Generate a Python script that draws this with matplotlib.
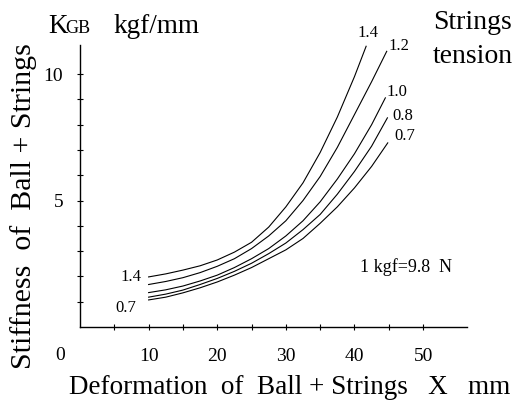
import matplotlib
matplotlib.use("Agg")
import matplotlib.pyplot as plt

plt.rcParams["font.family"] = ["Liberation Serif", "DejaVu Serif"]

# deformation X (mm) and stiffness K (kgf/mm), per string tension
tensions = ["1.4", "1.2", "1.0", "0.8", "0.7"]
x_14 = [10, 12.5, 15, 17.5, 20, 22.5, 25, 27.5, 30, 32.5, 35, 37.5, 40, 41.7]
k_14 = [1.98, 2.1, 2.25, 2.42, 2.65, 2.96, 3.35, 3.95, 4.75, 5.7, 6.9, 8.3, 9.9, 11.1]
x_12 = [10, 12.5, 15, 17.5, 20, 22.5, 25, 27.5, 30, 32.5, 35, 37.5, 40, 42.5, 44.7]
k_12 = [1.68, 1.8, 1.95, 2.15, 2.4, 2.7, 3.1, 3.6, 4.2, 5.0, 5.95, 7.1, 8.4, 9.7, 10.9]
x_10 = [10, 12.5, 15, 17.5, 20, 22.5, 25, 27.5, 30, 32.5, 35, 37.5, 40, 42.5, 44.5]
k_10 = [1.36, 1.47, 1.62, 1.82, 2.05, 2.35, 2.7, 3.1, 3.6, 4.2, 4.95, 5.85, 6.85, 8.0, 9.06]
x_08 = [10, 12.5, 15, 17.5, 20, 22.5, 25, 27.5, 30, 32.5, 35, 37.5, 40, 42.5, 44.8]
k_08 = [1.18, 1.3, 1.46, 1.68, 1.92, 2.2, 2.52, 2.9, 3.32, 3.85, 4.45, 5.25, 6.15, 7.15, 8.27]
x_07 = [10, 12.5, 15, 17.5, 20, 22.5, 25, 27.5, 30, 32.5, 35, 37.5, 40, 42.5, 44.85]
k_07 = [1.07, 1.18, 1.35, 1.55, 1.78, 2.05, 2.35, 2.7, 3.05, 3.5, 4.1, 4.75, 5.5, 6.35, 7.28]

x_ticks = [5, 10, 15, 20, 25, 30, 35, 40, 45, 50]
x_tick_labels = ["", "10", "", "20", "", "30", "", "40", "", "50"]
y_ticks = [1, 2, 3, 4, 5, 6, 7, 8, 9, 10]
y_tick_labels = ["", "", "", "", "5", "", "", "", "", "10"]

W, H = 519, 401
fig = plt.figure(figsize=(W / 100, H / 100), dpi=100)
ax = fig.add_axes([80 / W, (H - 327) / H, (467 - 80) / W, (327 - 45) / H])
ax.set_xlim(0, 56.4)
ax.set_ylim(0, 11.15)

curves = [(x_14, k_14), (x_12, k_12), (x_10, k_10), (x_08, k_08), (x_07, k_07)]
end_offsets = [(2, 13), (12, 5), (12, 6), (15, 2), (17, 7)]
for (xs, ks), lab, off in zip(curves, tensions, end_offsets):
    ax.plot(xs, ks, color="black", lw=0.8)
    ax.annotate(lab, (xs[-1], ks[-1]), xytext=off, textcoords="offset pixels",
                ha="center", va="center", fontsize=12)

# labels at the left ends of the outer curves
ax.annotate("1.4", (x_14[0], k_14[0]), xytext=(-18, 0), textcoords="offset pixels",
            ha="center", va="center", fontsize=12)
ax.annotate("0.7", (x_07[0], k_07[0]), xytext=(-23, -8), textcoords="offset pixels",
            ha="center", va="center", fontsize=12)

for s in ["top", "right"]:
    ax.spines[s].set_visible(False)
for s in ["left", "bottom"]:
    ax.spines[s].set_linewidth(1.0)

ax.set_xticks(x_ticks)
ax.set_xticklabels(x_tick_labels, fontsize=14)
ax.set_yticks(y_ticks)
ax.set_yticklabels(y_tick_labels, fontsize=14)
ax.tick_params(axis="x", direction="inout", length=4, width=0.8, pad=13)
ax.tick_params(axis="y", direction="inout", length=4, width=0.8, pad=10)

fig.text(60 / W, 1 - 355 / H, "0", ha="center", va="center", fontsize=14)
fig.text(360 / W, 1 - 267 / H, "1 kgf=9.8  N", ha="left", va="center", fontsize=13)

fig.text(290 / W, 1 - 388 / H, "Deformation  of  Ball + Strings   X   mm",
         ha="center", va="center", fontsize=19.5)
fig.text(24 / W, 1 - 206 / H, "Stiffness  of  Ball + Strings", rotation=90,
         ha="center", va="center", fontsize=21.5)

fig.text(48 / W, 1 - 33 / H, "K", ha="left", va="baseline", fontsize=19.5)
fig.text(65 / W, 1 - 33 / H, "GB", ha="left", va="baseline", fontsize=13)
fig.text(113 / W, 1 - 33 / H, "kgf/mm", ha="left", va="baseline", fontsize=19.5)
fig.text(433 / W, 1 - 29 / H, "Strings", ha="left", va="baseline", fontsize=20)
fig.text(433 / W, 1 - 63 / H, "tension", ha="left", va="baseline", fontsize=20)

fig.savefig("out.png", dpi=100)
